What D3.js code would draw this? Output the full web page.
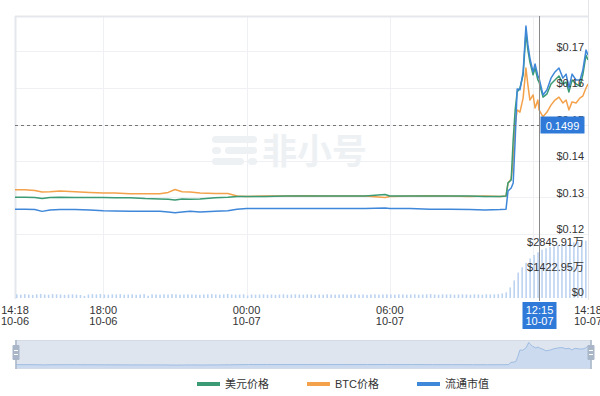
<!DOCTYPE html>
<html lang="zh">
<head>
<meta charset="UTF-8">
<title>price chart</title>
<style>
body{margin:0;background:#fff;}
.chart{width:600px;height:396px;}
text{font-family:"Liberation Sans",Arial,"Noto Sans CJK SC",sans-serif;}
</style>
</head>
<body>
<div class="chart"></div>
<script src="https://d3js.org/d3.v7.min.js"></script>
<script>
// sample times (10-06 .. 10-07)
var times = ["10-06 14:18","10-06 14:43","10-06 15:08","10-06 15:26","10-06 15:46","10-06 16:11","10-06 16:49","10-06 17:26",
  "10-06 18:00","10-06 18:29","10-06 19:07","10-06 19:45","10-06 20:22","10-06 20:43","10-06 21:00","10-06 21:18",
  "10-06 21:38","10-06 22:03","10-06 22:41","10-06 23:13","10-06 23:36","10-07 00:00","10-07 00:46","10-07 01:37",
  "10-07 02:27","10-07 03:17","10-07 04:07","10-07 04:58","10-07 05:48","10-07 06:00","10-07 06:51","10-07 07:41",
  "10-07 08:31","10-07 09:21","10-07 09:59","10-07 10:37","10-07 10:52","10-07 10:57","10-07 11:05","10-07 11:10",
  "10-07 11:15","10-07 11:20","10-07 11:27","10-07 11:35","10-07 11:42","10-07 11:47","10-07 11:52","10-07 12:00",
  "10-07 12:05","10-07 12:12","10-07 12:15","10-07 12:25","10-07 12:35","10-07 12:45","10-07 12:55","10-07 13:05",
  "10-07 13:15","10-07 13:23","10-07 13:30","10-07 13:38","10-07 13:48","10-07 13:58","10-07 14:05","10-07 14:13","10-07 14:18"];

var usdPrice = [.1301,.1301,.1300,.1297,.1300,.1301,.1300,.1300,.1300,.1299,.1299,.1297,.1296,.1295,.1293,.1296,
  .1295,.1296,.1299,.1301,.1303,.1303,.1303,.1304,.1304,.1304,.1304,.1304,.1308,.1304,.1304,.1304,
  .1304,.1304,.1303,.1303,.1304,.1340,.1348,.1458,.1540,.1589,.1600,.1636,.1751,.1704,.1671,.1636,
  .1655,.1622,.1616,.1575,.1584,.1611,.1622,.1633,.1611,.1616,.1589,.1622,.1611,.1605,.1636,.1690,.1677];

var btcPrice = [.1321,.1321,.1319,.1315,.1316,.1318,.1316,.1314,.1312,.1312,.1310,.1310,.1310,.1314,.1322,.1316,
  .1315,.1312,.1311,.1311,.1304,.1303,.1304,.1304,.1305,.1304,.1304,.1304,.1300,.1303,.1304,.1305,
  .1304,.1303,.1304,.1303,.1304,.1340,.1351,.1403,.1499,.1540,.1534,.1573,.1655,.1608,.1567,.1581,
  .1545,.1567,.1540,.1521,.1534,.1553,.1567,.1575,.1559,.1567,.1540,.1562,.1559,.1573,.1578,.1600,.1611];

var marketCap = [.1268,.1268,.1267,.1262,.1266,.1267,.1267,.1266,.1264,.1263,.1262,.1262,.1262,.1260,.1258,.1260,
  .1262,.1260,.1262,.1264,.1268,.1270,.1270,.1270,.1270,.1270,.1270,.1270,.1271,.1270,.1270,.1268,
  .1268,.1267,.1266,.1267,.1268,.1318,.1326,.1340,.1458,.1597,.1595,.1644,.1770,.1718,.1682,.1644,
  .1666,.1633,.1627,.1581,.1595,.1627,.1644,.1655,.1627,.1638,.1600,.1638,.1622,.1622,.1649,.1704,.1690];

// volume bars, 10 minute steps from 10-06 14:18 (unit: 万 USD)
var volume = [210,190,220,200,180,210,230,200,190,220,210,200,
  180,200,210,190,170,120,200,220,210,230,200,190,
  210,200,220,190,200,210,180,200,220,130,210,200,
  190,210,200,220,210,190,200,210,200,190,180,200,
  210,220,200,190,210,230,200,190,200,210,140,200,
  190,200,210,190,200,180,200,210,190,200,210,200,
  190,210,200,180,200,190,210,200,190,200,210,190,
  200,210,190,200,180,200,210,190,200,210,200,190,
  210,200,190,200,210,190,200,210,220,200,190,210,
  200,210,190,200,210,200,190,210,200,190,210,200,
  210,220,
  260,320,600,1000,1450,1750,2000,2250,2450,2600,2750,2830,2900,2950,3000,3050,3100,3130,3170,3200,3230,3260];

var priceTicks = [0.12, 0.13, 0.14, 0.15, 0.16, 0.17];
var volTicks = [0, 1422.95, 2845.91];
var timeTicks = ["10-06 14:18","10-06 18:00","10-07 00:00","10-07 06:00","10-07 14:18"];
var hoverTime = "10-07 12:15", hoverPrice = 0.1499;
var seriesNames = ["美元价格", "BTC价格", "流通市值"];
var colors = ["#3a9b74", "#f4a14b", "#3f87d9"];

var W = 600, H = 396;
var parse = d3.timeParse("%m-%d %H:%M");
var t = times.map(parse);

var svg = d3.select('.chart').append('svg')
  .attr('width', W).attr('height', H);

var x = d3.scaleTime()
  .domain([parse(times[0]), parse(times[times.length-1])])
  .range([15, 588]);
var y = d3.scaleLinear().domain([0.12, 0.18]).range([234, 15]);
var yv = d3.scaleLinear().domain([0, 2845.91]).range([298, 248]);

// watermark
var wm = svg.append('g').attr('fill', '#eef1f4');
wm.append('rect').attr('x', 212).attr('y', 136).attr('width', 45).attr('height', 7).attr('rx', 3.5);
wm.append('rect').attr('x', 212).attr('y', 147).attr('width', 9).attr('height', 7).attr('rx', 3.5);
wm.append('rect').attr('x', 225).attr('y', 147).attr('width', 32).attr('height', 7).attr('rx', 3.5);
wm.append('rect').attr('x', 212).attr('y', 158).attr('width', 32).attr('height', 7).attr('rx', 3.5);
wm.append('rect').attr('x', 248).attr('y', 158).attr('width', 9).attr('height', 7).attr('rx', 3.5);
wm.append('text').attr('x', 262).attr('y', 164).style('font-family', '"Noto Sans CJK SC"')
  .style('font-size', '35px').style('font-weight', 'bold').text('非小号');

// grid
var grid = svg.append('g').attr('stroke', '#eef0f3').attr('stroke-width', 1);
grid.selectAll('.hg').data(priceTicks).enter().append('line')
  .attr('x1', 15).attr('x2', 588)
  .attr('y1', d => Math.round(y(d)) + 0.5).attr('y2', d => Math.round(y(d)) + 0.5);
grid.selectAll('.vg').data(["10-06 18:00","10-07 00:00","10-07 06:00","10-07 12:00"]).enter().append('line')
  .attr('x1', d => Math.round(x(parse(d))) + 0.5).attr('x2', d => Math.round(x(parse(d))) + 0.5)
  .attr('y1', 16).attr('y2', 299);
svg.append('line').attr('x1', 15).attr('x2', 588).attr('y1', 16.5).attr('y2', 16.5).attr('stroke', '#e4e7ec').attr('stroke-width', 2);
svg.append('line').attr('x1', 15.5).attr('x2', 15.5).attr('y1', 16).attr('y2', 299).attr('stroke', '#e4e7ec').attr('stroke-width', 2);
svg.append('line').attr('x1', 588.5).attr('x2', 588.5).attr('y1', 0).attr('y2', 300).attr('stroke', '#e2e4e8');

// volume bars
var barStep = 10 * 60 * 1000;
svg.append('g').attr('fill', '#bcd3f1')
  .selectAll('rect').data(volume).enter().append('rect')
  .attr('x', (d, i) => x(new Date(+t[0] + i * barStep)) + 1)
  .attr('width', 1.6)
  .attr('y', d => yv(d))
  .attr('height', d => yv(0) - yv(d));

// price lines
var plot = svg.append('g');
plot.append('clipPath').attr('id', 'clip').append('rect')
  .attr('x', 15).attr('y', 15).attr('width', 573).attr('height', 219);
var line = d3.line().x((d, i) => x(t[i])).y(d => y(d));
[btcPrice, usdPrice, marketCap].forEach(function (s, k) {
  var c = [colors[1], colors[0], colors[2]][k];
  plot.append('path').datum(s)
    .attr('clip-path', 'url(#clip)')
    .attr('fill', 'none').attr('stroke', c).attr('stroke-width', 1.5)
    .attr('stroke-linejoin', 'round')
    .attr('d', line);
});

// right axis labels
svg.append('g').selectAll('text').data(priceTicks).enter().append('text')
  .attr('x', 584).attr('y', d => y(d) - 1).attr('text-anchor', 'end')
  .style('font-size', '11px').attr('fill', '#333')
  .text(d => '$' + d.toFixed(2));
svg.append('g').selectAll('text').data(volTicks).enter().append('text')
  .attr('x', 584).attr('y', d => yv(d) - 2.5).attr('text-anchor', 'end')
  .style('font-size', '11px').attr('fill', '#333')
  .style('font-family', '"Liberation Sans","Noto Sans CJK SC",sans-serif')
  .text(d => d === 0 ? '$0' : '$' + d.toFixed(2) + '万');

// x axis labels
var fmtT = d3.timeFormat('%H:%M'), fmtD = d3.timeFormat('%m-%d');
var xl = svg.append('g').selectAll('g').data(timeTicks).enter().append('g')
  .attr('transform', d => `translate(${x(parse(d))},0)`);
xl.append('text').attr('y', 314).attr('text-anchor', 'middle').style('font-size', '11px').attr('fill', '#333').text(d => fmtT(parse(d)));
xl.append('text').attr('y', 325).attr('text-anchor', 'middle').style('font-size', '11px').attr('fill', '#333').text(d => fmtD(parse(d)));

// crosshair
var hx = Math.round(x(parse(hoverTime))) + 0.5, hy = Math.round(y(hoverPrice)) + 0.5;
svg.append('line').attr('x1', hx).attr('x2', hx).attr('y1', 16).attr('y2', 301).attr('stroke', '#8a8a8a');
svg.append('line').attr('x1', 15).attr('x2', hx).attr('y1', hy).attr('y2', hy)
  .attr('stroke', '#777').attr('stroke-dasharray', '3,3');
svg.append('rect').attr('x', hx + 1).attr('y', hy - 9).attr('width', 44).attr('height', 17).attr('fill', '#2f7ad9');
svg.append('text').attr('x', hx + 23).attr('y', hy + 4).attr('text-anchor', 'middle')
  .style('font-size', '11px').attr('fill', '#fff').text(hoverPrice.toFixed(4));
svg.append('rect').attr('x', hx - 17).attr('y', 302).attr('width', 34).attr('height', 27).attr('fill', '#2f7ad9');
svg.append('text').attr('x', hx).attr('y', 314).attr('text-anchor', 'middle')
  .style('font-size', '11px').attr('fill', '#fff').text(fmtT(parse(hoverTime)));
svg.append('text').attr('x', hx).attr('y', 325).attr('text-anchor', 'middle')
  .style('font-size', '11px').attr('fill', '#fff').text(fmtD(parse(hoverTime)));

// data zoom slider
var sx = d3.scaleTime().domain(x.domain()).range([16, 591]);
var sy = d3.scaleLinear().domain([0.126, 0.178]).range([365, 342]);
svg.append('rect').attr('x', 16).attr('y', 340.5).attr('width', 575).attr('height', 28)
  .attr('fill', '#dfe5ee').attr('stroke', '#d3dbe6');
svg.append('path').datum(marketCap)
  .attr('fill', '#cbdaee')
  .attr('d', d3.area().x((d, i) => sx(t[i])).y0(368).y1(d => sy(d)));
svg.append('path').datum(marketCap)
  .attr('fill', 'none').attr('stroke', '#9fbde3').attr('stroke-width', 1)
  .attr('d', d3.line().x((d, i) => sx(t[i])).y(d => sy(d)));
[16, 591].forEach(function (hxp) {
  svg.append('line').attr('x1', hxp).attr('x2', hxp).attr('y1', 340).attr('y2', 369).attr('stroke', '#a8b6c8').attr('stroke-width', 1.5);
  svg.append('rect').attr('x', hxp - 3.5).attr('y', 345).attr('width', 7).attr('height', 15).attr('rx', 1).attr('fill', '#a8b6c8');
  svg.append('line').attr('x1', hxp - 2).attr('x2', hxp + 2).attr('y1', 350.5).attr('y2', 350.5).attr('stroke', '#fff');
  svg.append('line').attr('x1', hxp - 2).attr('x2', hxp + 2).attr('y1', 354.5).attr('y2', 354.5).attr('stroke', '#fff');
});

// legend
var legX = [197, 307, 417];
var leg = svg.append('g').selectAll('g').data(seriesNames).enter().append('g')
  .attr('transform', (d, i) => `translate(${legX[i]},0)`);
leg.append('rect').attr('y', 382).attr('width', 23).attr('height', 4).attr('fill', (d, i) => colors[i]);
leg.append('text').attr('x', 28).attr('y', 388).style('font-size', '11px').attr('fill', '#333')
  .style('font-family', '"Liberation Sans","Noto Sans CJK SC",sans-serif').text(d => d);
</script>
</body>
</html>
